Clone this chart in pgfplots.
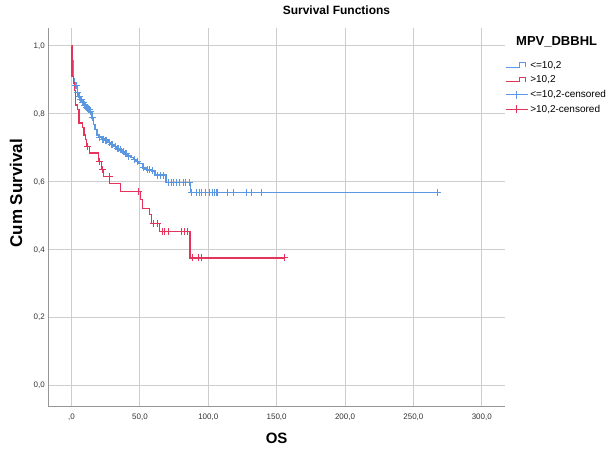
\documentclass[border=0pt]{standalone}
\usepackage{fontspec}
\setmainfont{Liberation Sans}
\usepackage{pgfplots}
\pgfplotsset{compat=1.18}
\definecolor{lowgrp}{RGB}{92,152,226}
\definecolor{redgrp}{RGB}{228,52,92}
\definecolor{gridc}{RGB}{205,205,205}
\definecolor{axisc}{RGB}{150,150,150}

\begin{document}
\begin{tikzpicture}[x=1pt,y=1pt]
\useasboundingbox (0,0) rectangle (608,453);
\begin{axis}[
  at={(48.3pt,47pt)}, anchor=south west,
  scale only axis, width=456.7pt, height=378pt,
  xmin=-17, xmax=317, ymin=-0.06, ymax=1.053,
  axis lines*=left,
  axis line style={axisc, line width=1pt},
  grid=major, grid style={gridc, line width=1pt},
  major tick length=0pt,
  xtick={0,50,100,150,200,250,300},
  xticklabels={{,0},{50,0},{100,0},{150,0},{200,0},{250,0},{300,0}},
  ytick={0,0.2,0.4,0.6,0.8,1.0},
  yticklabels={{0,0},{0,2},{0,4},{0,6},{0,8},{1,0}},
  tick label style={font=\fontsize{8}{9}\selectfont, text=black!80},
  xticklabel style={yshift=-4pt},
  title={Survival Functions},
  title style={at={(axis description cs:0.631,1.032)}, anchor=center, font=\bfseries\fontsize{12}{14}\selectfont},
  xlabel={OS},
  xlabel style={at={(axis description cs:0.5,-0.085)}, anchor=center, font=\bfseries\fontsize{15}{17}\selectfont},
  ylabel={Cum Survival},
  ylabel style={at={(axis description cs:-0.0707,0.563)}, anchor=center, font=\bfseries\fontsize{17}{19}\selectfont},
  legend style={at={(axis description cs:1.0,0.918)}, anchor=north west, draw=none, fill=none,
    font=\fontsize{10}{12}\selectfont, row sep=2pt, inner sep=0pt},
  legend cell align=left,
]
% <=10,2
\addplot[const plot, color=lowgrp, line width=1.2pt,
  legend image code/.code={\draw[color=lowgrp, line width=1.1pt] (0pt,-2pt) -- (14pt,-2pt) -- (14pt,2.5pt) -- (20pt,2.5pt) -- (20pt,-2pt);}]
  coordinates {
  (0,1.0) (0.2,0.982) (0.5,0.958) (1.0,0.929) (1.4,0.905) (2.1,0.884)
  (4.2,0.864) (5.0,0.850) (6.1,0.841) (7.6,0.835) (9.1,0.826) (10.5,0.818)
  (12.0,0.812) (13.5,0.806) (14.9,0.788) (16.0,0.770) (17.1,0.753) (18.6,0.738)
  (20.0,0.732) (22.2,0.726) (24.4,0.723) (26.6,0.717) (28.8,0.709) (31.0,0.703)
  (33.2,0.697) (35.4,0.694) (36.9,0.688) (39.1,0.682) (41.3,0.676) (43.5,0.671)
  (45.6,0.665) (47.1,0.659) (49.3,0.653) (52.2,0.641) (55.1,0.635) (58.8,0.632)
  (61.0,0.620) (69.1,0.599) (86.8,0.569) (267.8,0.569)
};
\addlegendentry{<=10,2}
% >10,2
\addplot[const plot, color=redgrp, line width=1.2pt,
  legend image code/.code={\draw[color=redgrp, line width=1.1pt] (0pt,-2pt) -- (14pt,-2pt) -- (14pt,2.5pt) -- (20pt,2.5pt) -- (20pt,-2pt);}]
  coordinates {
  (0,1.0) (0.3,0.910) (1.2,0.891) (2.4,0.870) (3.0,0.826) (4.2,0.812)
  (5.4,0.773) (7.8,0.761) (9.1,0.738) (10.3,0.724) (11.0,0.703) (13.4,0.685)
  (19.5,0.659) (21.8,0.637) (23.2,0.615) (27.6,0.596) (35.9,0.571) (50.6,0.547)
  (52.0,0.522) (56.8,0.503) (58.5,0.478) (64.4,0.453) (86.6,0.376) (155.4,0.376)
};
\addlegendentry{>10,2}
% <=10,2-censored
\addplot[only marks, mark=+, mark size=3.5pt, color=lowgrp, mark options={line width=1pt},
  legend image code/.code={\draw[color=lowgrp, line width=1.1pt] (0pt,0pt) -- (22pt,0pt) (11pt,-4pt) -- (11pt,4pt);}]
  coordinates {
  (2.8,0.884) (3.3,0.884) (4.6,0.864) (5.6,0.850) (6.6,0.841) (7.2,0.841)
  (8.0,0.835) (8.5,0.835) (9.6,0.826) (10.0,0.826) (11.0,0.818) (11.5,0.818)
  (12.5,0.812) (13.0,0.812) (14.2,0.806) (15.3,0.788) (20.8,0.732) (23.0,0.726)
  (23.6,0.726) (25.0,0.723) (25.8,0.723) (27.5,0.717) (29.5,0.709) (30.2,0.709)
  (31.8,0.703) (33.8,0.697) (34.5,0.697) (36.0,0.694) (38.0,0.688) (39.8,0.682)
  (40.5,0.682) (42.0,0.676) (46.3,0.665) (48.0,0.659) (52.8,0.641) (55.8,0.635)
  (56.8,0.635) (59.5,0.632) (62.5,0.620) (65.0,0.620) (67.0,0.620)
  (70.7,0.599) (73.2,0.599) (74.9,0.599) (76.9,0.599) (79.3,0.599) (81.7,0.599)
  (83.7,0.599) (86.1,0.599)
  (87.8,0.569) (91.5,0.569) (93.9,0.569) (95.4,0.569) (97.6,0.569) (101.2,0.569)
  (103.4,0.569) (104.9,0.569) (106.3,0.569) (107.1,0.569) (113.7,0.569) (118.1,0.569)
  (128.3,0.569) (131.9,0.569) (138.6,0.569) (267.8,0.569)
};
\addlegendentry{<=10,2-censored}
% >10,2-censored
\addplot[only marks, mark=+, mark size=3.5pt, color=redgrp, mark options={line width=1pt},
  legend image code/.code={\draw[color=redgrp, line width=1.1pt] (0pt,0pt) -- (22pt,0pt) (11pt,-4pt) -- (11pt,4pt);}]
  coordinates {
  (12.0,0.703) (20.8,0.659) (22.7,0.637) (27.4,0.615) (49.3,0.571) (60.0,0.478)
  (62.8,0.478) (66.6,0.453) (68.3,0.453) (70.7,0.453) (80.5,0.453) (82.9,0.453)
  (84.6,0.453) (88.6,0.376) (92.7,0.376) (95.2,0.376) (155.4,0.376)
};
\addlegendentry{>10,2-censored}
\end{axis}
\node[anchor=west, font=\bfseries\fontsize{13}{15}\selectfont, inner sep=0pt] at (516,411) {MPV\_DBBHL};
\end{tikzpicture}
\end{document}
